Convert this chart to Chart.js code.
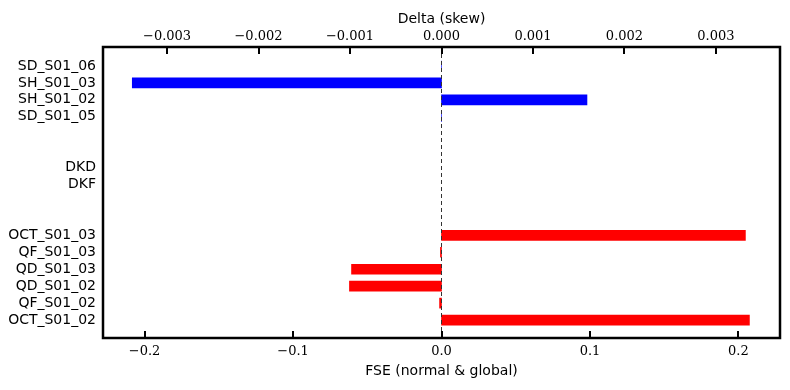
<!DOCTYPE html>
<html>
<head>
<meta charset="utf-8">
<script src="https://cdn.jsdelivr.net/npm/chart.js@4/dist/chart.umd.min.js"></script>
<style>
  html, body { margin: 0; padding: 0; background: #fff; }
  #wrap { width: 790px; height: 390px; }
</style>
</head>
<body>
<div id="wrap"><canvas id="chart"></canvas></div>
<script>
// rows top to bottom, blank strings are spacer rows
const categories = [
  "SD_S01_06", "SH_S01_03", "SH_S01_02", "SD_S01_05", "", "",
  "DKD", "DKF", "", "",
  "OCT_S01_03", "QF_S01_03", "QD_S01_03", "QD_S01_02", "QF_S01_02", "OCT_S01_02"
]
const deltaSkew = [0, -0.00338, 0.00159, 0, null, null, null, null, null, null, null, null, null, null, null, null]
const fse = [null, null, null, null, null, null, null, null, null, null, 0.2047, -0.0007, -0.0606, -0.0620, -0.0013, 0.2074]
const topTicks = [-0.003, -0.002, -0.001, 0, 0.001, 0.002, 0.003]
const bottomTicks = [-0.2, -0.1, 0, 0.1, 0.2]

const minus = (s) => s.replace("-", "\u2212")
const rows = (arr) => arr.map((v, i) => ({ x: v, y: i }))

const framePlugin = {
  id: "frame",
  afterDatasetsDraw(chart) {
    const { ctx, chartArea: a, scales } = chart
    ctx.save()

    // dashed zero line
    const x0 = scales.xBottom.getPixelForValue(0)
    ctx.strokeStyle = "#333"
    ctx.lineWidth = 1
    ctx.setLineDash([4, 3])
    ctx.beginPath()
    ctx.moveTo(x0, a.top)
    ctx.lineTo(x0, a.bottom)
    ctx.stroke()
    ctx.setLineDash([])

    // inward tick marks
    ctx.strokeStyle = "#000"
    ctx.lineWidth = 2
    scales.xBottom.ticks.forEach(t => {
      const x = Math.round(scales.xBottom.getPixelForValue(t.value))
      ctx.beginPath()
      ctx.moveTo(x, a.bottom)
      ctx.lineTo(x, a.bottom - 7)
      ctx.stroke()
    })
    scales.xTop.ticks.forEach(t => {
      const x = Math.round(scales.xTop.getPixelForValue(t.value))
      ctx.beginPath()
      ctx.moveTo(x, a.top)
      ctx.lineTo(x, a.top + 7)
      ctx.stroke()
    })

    ctx.lineWidth = 2.5
    ctx.strokeRect(a.left, a.top, a.right - a.left, a.bottom - a.top)
    ctx.restore()
  }
}

const tickFont = { family: "DejaVu Serif", size: 13 }
const labelFont = { family: "DejaVu Sans", size: 14 }

new Chart(document.getElementById("chart"), {
  type: "bar",
  data: {
    datasets: [
      {
        label: "Delta (skew)",
        data: rows(deltaSkew),
        xAxisID: "xTop",
        backgroundColor: "#0000ff",
        barThickness: 10,
        grouped: false
      },
      {
        label: "FSE (normal & global)",
        data: rows(fse),
        xAxisID: "xBottom",
        backgroundColor: "#ff0000",
        barThickness: 10,
        grouped: false
      }
    ]
  },
  options: {
    indexAxis: "y",
    responsive: true,
    maintainAspectRatio: false,
    animation: false,
    layout: { padding: { left: 0, right: 10, top: 0, bottom: 0 } },
    plugins: {
      legend: { display: false },
      tooltip: { enabled: false }
    },
    scales: {
      y: {
        type: "linear",
        reverse: true,
        offset: false,
        min: -1.12,
        max: 16.06,
        afterBuildTicks: (s) => { s.ticks = categories.map((c, i) => ({ value: i })) },
        grid: { display: false, drawTicks: false, offset: false },
        border: { display: false },
        ticks: {
          color: "#000",
          font: labelFont,
          autoSkip: false,
          padding: 7,
          callback: (v) => categories[v]
        },
        afterFit: (s) => { s.width = 103 }
      },
      xBottom: {
        type: "linear",
        position: "bottom",
        min: -0.228,
        max: 0.228,
        afterBuildTicks: (s) => { s.ticks = bottomTicks.map(v => ({ value: v })) },
        grid: { display: false, drawTicks: false },
        border: { display: false },
        ticks: {
          color: "#000",
          font: tickFont,
          padding: 6,
          callback: (v) => minus(Number(v).toFixed(1))
        },
        title: {
          display: true,
          text: "FSE (normal & global)",
          color: "#000",
          font: { family: "DejaVu Sans", size: 14 },
          padding: { top: 4, bottom: 10 }
        },
        afterFit: (s) => { s.height = 52 }
      },
      xTop: {
        type: "linear",
        position: "top",
        min: -0.0037,
        max: 0.0037,
        afterBuildTicks: (s) => { s.ticks = topTicks.map(v => ({ value: v })) },
        grid: { display: false, drawTicks: false },
        border: { display: false },
        ticks: {
          color: "#000",
          font: tickFont,
          padding: 3,
          callback: (v) => minus(Number(v).toFixed(3))
        },
        title: {
          display: true,
          text: "Delta (skew)",
          color: "#000",
          font: { family: "DejaVu Sans", size: 14 },
          padding: { top: 11, bottom: 4 }
        },
        afterFit: (s) => { s.height = 47 }
      }
    }
  },
  plugins: [framePlugin]
})
</script>
</body>
</html>
